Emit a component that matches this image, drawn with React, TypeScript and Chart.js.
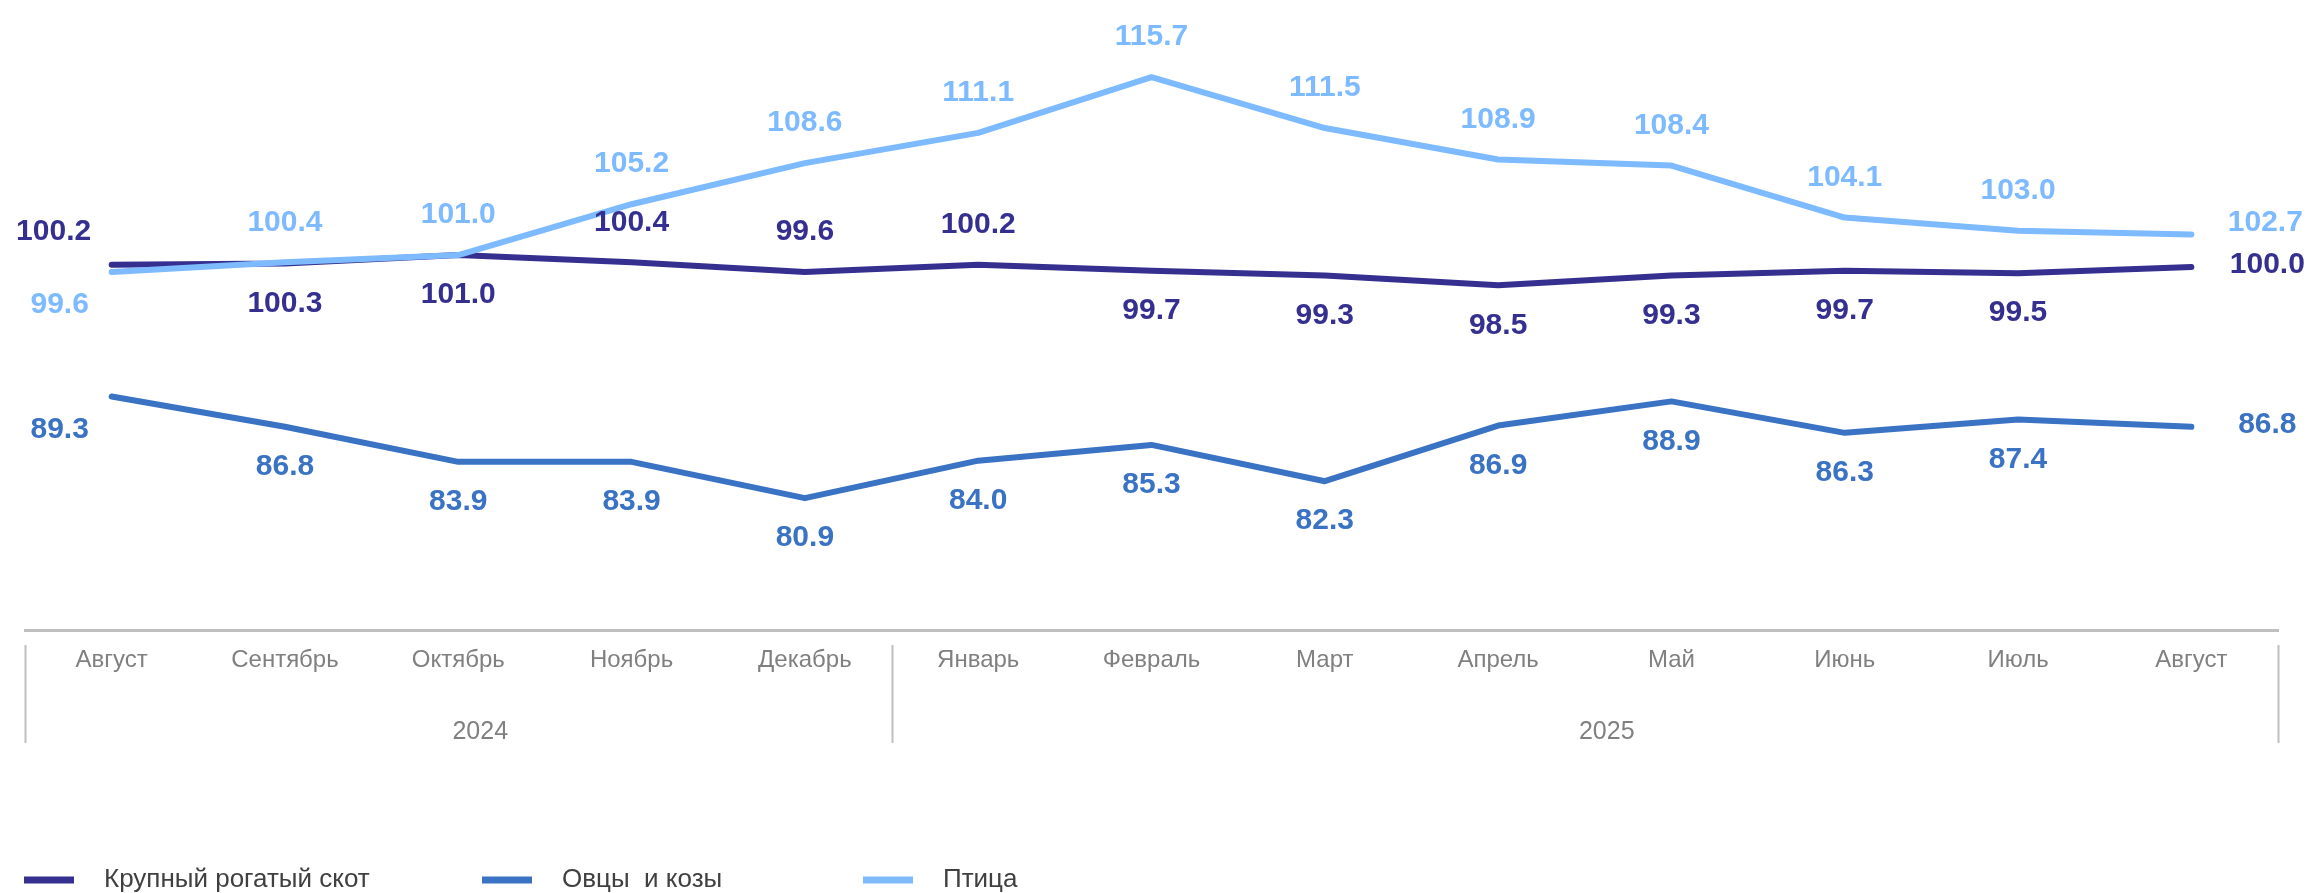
import { useEffect, useRef } from 'react';
import { Chart, registerables } from 'chart.js';

Chart.register(...registerables);

// ---- data ----
const months = ['Август', 'Сентябрь', 'Октябрь', 'Ноябрь', 'Декабрь', 'Январь', 'Февраль', 'Март', 'Апрель', 'Май', 'Июнь', 'Июль', 'Август'];
const yearLabels = ['2024', '2025'];
const yearSpans = [5, 8];
const seriesNames = ['Крупный рогатый скот', 'Овцы  и козы', 'Птица'];
const cattle = [100.2, 100.3, 101.0, 100.4, 99.6, 100.2, 99.7, 99.3, 98.5, 99.3, 99.7, 99.5, 100.0];
const sheepGoats = [89.3, 86.8, 83.9, 83.9, 80.9, 84.0, 85.3, 82.3, 86.9, 88.9, 86.3, 87.4, 86.8];
const poultry = [99.6, 100.4, 101.0, 105.2, 108.6, 111.1, 115.7, 111.5, 108.9, 108.4, 104.1, 103.0, 102.7];

// label placement keywords (style, not data)
const cattleLabelPos = ['aboveLeft', 'below', 'below', 'above', 'above', 'above', 'below', 'below', 'below', 'below', 'below', 'below', 'right'];
const sheepLabelPos = ['belowLeft', 'below', 'below', 'below', 'below', 'below', 'below', 'below', 'below', 'below', 'below', 'below', 'right'];
const poultryLabelPos = ['belowLeft', 'above', 'above', 'above', 'above', 'above', 'above', 'above', 'above', 'above', 'above', 'above', 'aboveRight'];

const COLORS = ['#35308f', '#3a72c4', '#7dbaff'];
const FONT = '"Liberation Sans", Arial, sans-serif';

const offsets: Record<string, [number, number]> = {
  above: [0, -40],
  below: [0, 40],
  aboveLeft: [-58, -33],
  belowLeft: [-52, 33],
  aboveRight: [74, -12],
  right: [76, -2],
};

const labelPlugin = {
  id: 'valueLabels',
  afterDatasetsDraw(chart: any) {
    const ctx = chart.ctx;
    ctx.save();
    ctx.font = `bold 30px ${FONT}`;
    ctx.textAlign = 'center';
    ctx.textBaseline = 'middle';
    chart.data.datasets.forEach((ds: any, di: number) => {
      const meta = chart.getDatasetMeta(di);
      meta.data.forEach((pt: any, i: number) => {
        const pos = ds.labelPos[i];
        const [dx, dy] = offsets[pos];
        ctx.fillStyle = ds.borderColor;
        ctx.fillText(Number(ds.data[i]).toFixed(1), pt.x + dx, pt.y + dy);
      });
    });
    ctx.restore();
  },
};

const axisDecorPlugin = {
  id: 'axisDecor',
  afterDraw(chart: any) {
    const ctx = chart.ctx;
    const xs = chart.scales.x;
    const step = xs.getPixelForValue(1) - xs.getPixelForValue(0);
    ctx.save();
    // group separators
    ctx.strokeStyle = '#bfbfbf';
    ctx.lineWidth = 2;
    let idx = 0;
    const bounds = [0];
    yearSpans.forEach((s) => { idx += s; bounds.push(idx); });
    bounds.forEach((b) => {
      const x = Math.round(xs.getPixelForValue(b) - step / 2) + 0.5;
      ctx.beginPath();
      ctx.moveTo(x, 645);
      ctx.lineTo(x, 743);
      ctx.stroke();
    });
    // year labels
    ctx.fillStyle = '#808080';
    ctx.font = `25px ${FONT}`;
    ctx.textAlign = 'center';
    ctx.textBaseline = 'middle';
    yearLabels.forEach((lab, k) => {
      const a = xs.getPixelForValue(bounds[k]) - step / 2;
      const b = xs.getPixelForValue(bounds[k + 1]) - step / 2;
      ctx.fillText(lab, (a + b) / 2 + 22, 732);
    });
    // legend
    const legendX = [24, 482, 863];
    const legendY = 880;
    ctx.font = `26px ${FONT}`;
    ctx.textAlign = 'left';
    chart.data.datasets.forEach((ds: any, i: number) => {
      const x0 = legendX[i];
      ctx.fillStyle = ds.borderColor;
      ctx.fillRect(x0, legendY - 3.5, 50, 7);
      ctx.fillStyle = '#404040';
      ctx.fillText(ds.label, x0 + 80, legendY);
    });
    ctx.restore();
  },
};

export default function App() {
  const canvasRef = useRef<HTMLCanvasElement | null>(null);

  useEffect(() => {
    if (!canvasRef.current) return;
    const mk = (label: string, data: number[], color: string, pos: string[], order: number) => ({
      label,
      data,
      borderColor: color,
      backgroundColor: color,
      borderWidth: 6,
      pointRadius: 0,
      pointHoverRadius: 0,
      tension: 0,
      borderJoinStyle: 'round',
      borderCapStyle: 'round',
      fill: false,
      order,
      labelPos: pos,
    });
    const chart = new Chart(canvasRef.current, {
      type: 'line',
      data: {
        labels: months,
        datasets: [
          mk(seriesNames[0], cattle, COLORS[0], cattleLabelPos, 2),
          mk(seriesNames[1], sheepGoats, COLORS[1], sheepLabelPos, 1),
          mk(seriesNames[2], poultry, COLORS[2], poultryLabelPos, 0),
        ] as any,
      },
      options: {
        responsive: false,
        animation: false,
        layout: { padding: { top: 1, left: 25, right: 40, bottom: 0 } },
        plugins: {
          legend: { display: false },
          tooltip: { enabled: false },
        },
        scales: {
          x: {
            offset: true,
            grid: { display: false, drawTicks: false },
            border: { display: true, color: '#bfbfbf', width: 3 },
            ticks: {
              color: '#808080',
              font: { family: FONT, size: 24 },
              padding: 16,
              maxRotation: 0,
              autoSkip: false,
            },
            afterFit: (scale: any) => { scale.height = 263; },
          },
          y: {
            display: false,
            min: 70,
            max: 122,
          },
        },
      },
      plugins: [labelPlugin, axisDecorPlugin],
    });
    return () => chart.destroy();
  }, []);

  return (
    <div style={{ position: 'absolute', left: 0, top: 0, width: 2318, height: 893, background: '#ffffff' }}>
      <canvas ref={canvasRef} width={2318} height={893} style={{ display: 'block' }} />
    </div>
  );
}
